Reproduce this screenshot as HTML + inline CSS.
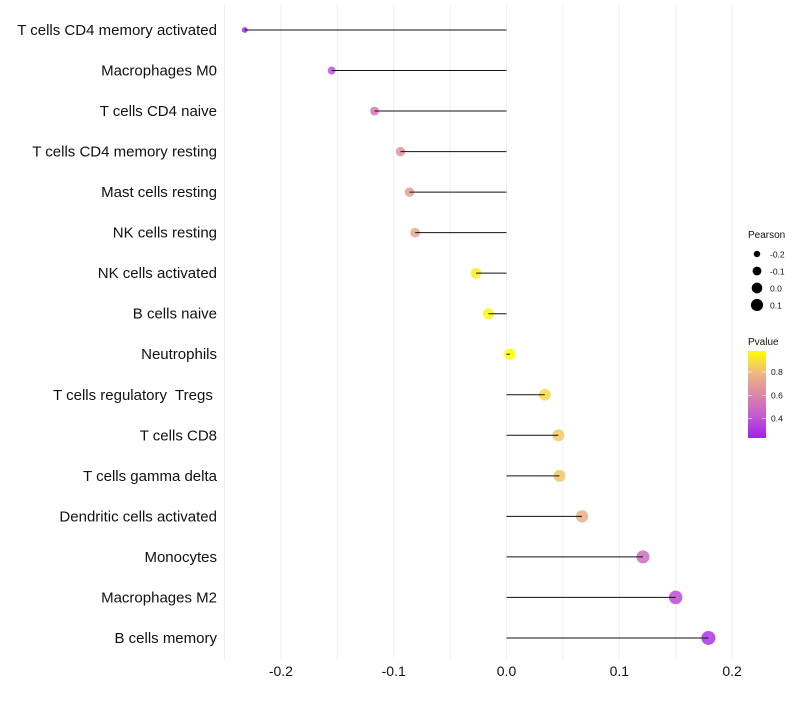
<!DOCTYPE html>
<html><head><meta charset="utf-8">
<style>
body{margin:0;background:#fff;font-family:"Liberation Sans",sans-serif;}
svg text{font-family:"Liberation Sans",sans-serif;white-space:pre;}
</style></head>
<body>
<svg id="chart" width="800" height="700"></svg>
<script>
const categories=["T cells CD4 memory activated","Macrophages M0","T cells CD4 naive","T cells CD4 memory resting","Mast cells resting","NK cells resting","NK cells activated","B cells naive","Neutrophils","T cells regulatory  Tregs ","T cells CD8","T cells gamma delta","Dendritic cells activated","Monocytes","Macrophages M2","B cells memory"];
const pearson=[-0.232,-0.155,-0.117,-0.094,-0.086,-0.081,-0.027,-0.016,0.003,0.034,0.046,0.047,0.067,0.121,0.150,0.179];
const pvalue=[0.25,0.40,0.55,0.65,0.70,0.72,0.93,0.95,0.98,0.88,0.84,0.83,0.76,0.50,0.38,0.30];
const xTicks=[-0.2,-0.1,0.0,0.1,0.2];
const xTickLabels=["-0.2","-0.1","0.0","0.1","0.2"];
const xGrid=[-0.25,-0.2,-0.15,-0.1,-0.05,0,0.05,0.1,0.15,0.2];
const sizeLegend=[-0.2,-0.1,0.0,0.1];
const pLegend=[0.8,0.6,0.4];

const NS="http://www.w3.org/2000/svg";
const svg=document.getElementById('chart');
function mk(t,a,p){const e=document.createElementNS(NS,t);for(const k in a)e.setAttribute(k,a[k]);(p||svg).appendChild(e);return e;}
const x=v=>506.5+v*1128;
const y=i=>30+i*40.53;
const r=v=>Math.sqrt(Math.max(2,31.3+98.8*v));
const stops=[[0,[160,32,240]],[0.25,[194,89,208]],[0.5,[218,135,168]],[0.75,[239,184,128]],[1,[255,255,0]]];
function col(p){let t=(p-0.235)/(0.98-0.235);t=Math.max(0,Math.min(1,t));
 for(let i=1;i<stops.length;i++){if(t<=stops[i][0]){const a=stops[i-1],b=stops[i];const f=(t-a[0])/(b[0]-a[0]);
 return 'rgb('+a[1].map((c,j)=>Math.round(c+(b[1][j]-c)*f)).join(',')+')';}}return 'rgb(255,255,0)';}

xGrid.forEach(v=>{const g=mk('line',{x1:x(v),x2:x(v),y1:5,y2:660,stroke:'#efefef','stroke-width':1});

});
xTicks.forEach((v,i)=>{const t=mk('text',{x:x(v),y:676,'text-anchor':'middle','font-size':14,fill:'#111'});t.textContent=xTickLabels[i];

});
categories.forEach((c,i)=>{
 const t=mk('text',{x:217,y:y(i)+5,'text-anchor':'end','font-size':15,fill:'#111'});t.textContent=c;
 
 
 const pt=mk('circle',{cx:x(pearson[i]),cy:y(i),r:r(pearson[i]),fill:col(pvalue[i]),'fill-opacity':0.85});
 
 
 const s=mk('line',{x1:x(pearson[i]),x2:x(0),y1:y(i),y2:y(i),stroke:'#111','stroke-width':1});
 
 
});
const lt=mk('text',{x:748,y:238,'font-size':10,fill:'#111'});lt.textContent='Pearson';


sizeLegend.forEach((v,i)=>{const cy=254+i*17;
 const c=mk('circle',{cx:757,cy:cy,r:r(v)*0.95,fill:'#000'});
 
 
 const t=mk('text',{x:770,y:cy+3.5,'font-size':8.5,fill:'#111'});t.textContent=v.toFixed(1);
 
 });
const ct=mk('text',{x:748,y:345,'font-size':10,fill:'#111'});ct.textContent='Pvalue';


const defs=mk('defs',{});const lg=mk('linearGradient',{id:'g',x1:0,y1:1,x2:0,y2:0},defs);
stops.forEach(s=>mk('stop',{offset:s[0],'stop-color':'rgb('+s[1].join(',')+')'},lg));
const bar=mk('rect',{x:748,y:351,width:18,height:87,fill:'url(#g)'});


pLegend.forEach(p=>{const cy=351+(0.98-p)/(0.98-0.235)*87;
 mk('line',{x1:748,x2:752,y1:cy,y2:cy,stroke:'#fff','stroke-width':0.6});
 mk('line',{x1:762,x2:766,y1:cy,y2:cy,stroke:'#fff','stroke-width':0.6});
 const t=mk('text',{x:771,y:cy+3,'font-size':8.5,fill:'#111'});t.textContent=p.toFixed(1);
 
 });
</script>
</body></html>
